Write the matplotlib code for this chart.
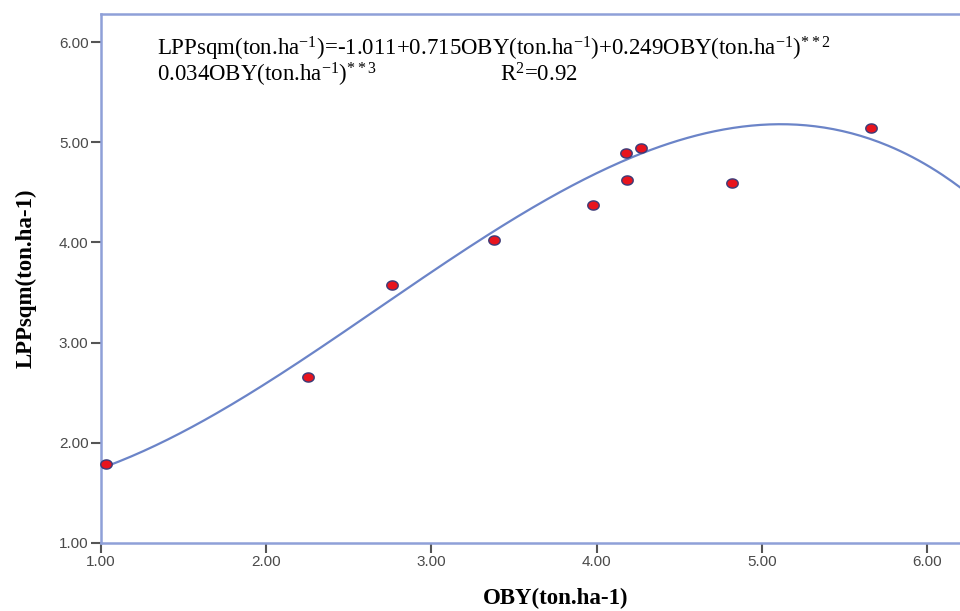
import numpy as np
import matplotlib
matplotlib.use('Agg')
import matplotlib.pyplot as plt

# Data
oby = [1.03, 2.25, 2.76, 3.38, 3.98, 4.175, 4.185, 4.27, 4.82, 5.66]
lppsqm = [1.79, 2.66, 3.58, 4.02, 4.37, 4.89, 4.62, 4.94, 4.59, 5.14]
# cubic fit line as drawn (coefficients, highest power first)
fit_coef = [-0.0637, 0.5123, -0.242, 1.539]
x_ticks = [1.00, 2.00, 3.00, 4.00, 5.00, 6.00]
y_ticks = [1.00, 2.00, 3.00, 4.00, 5.00, 6.00]

plt.rcParams['mathtext.fontset'] = 'custom'
plt.rcParams['mathtext.rm'] = 'Liberation Serif'
plt.rcParams['mathtext.it'] = 'Liberation Serif'

fig = plt.figure(figsize=(9.6, 6.11), dpi=100)
ax = fig.add_axes([101 / 960, 68 / 611, 5.5 * 165.2 / 960, 529 / 611])

xs = np.linspace(1.0, 6.5, 300)
ax.plot(xs, np.polyval(fit_coef, xs), color='#6b84c8', lw=1.6, zorder=2)

# slightly wide oval markers
t = np.linspace(0, 2 * np.pi, 40)
oval = list(zip(1.25 * np.cos(t), np.sin(t)))
ax.scatter(oby, lppsqm, marker=oval, s=68, facecolor='#e8141e',
           edgecolor='#3b3b78', linewidths=1.0, zorder=3, clip_on=False)

ax.set_xlim(1.0, 6.5)
ax.set_ylim(1.0, 6.28)
ax.set_xticks(x_ticks)
ax.set_yticks(y_ticks)
ax.set_xticklabels([f'{v:.2f}' for v in x_ticks])
ax.set_yticklabels([f'{v:.2f}' for v in y_ticks])
ax.tick_params(direction='out', length=7, width=1.5, color='#555555',
               labelsize=11, labelcolor='#4a4a4a', pad=2)
for lab in ax.get_xticklabels() + ax.get_yticklabels():
    lab.set_family('Liberation Sans')

for s in ax.spines.values():
    s.set_color('#8fa0d8')
    s.set_linewidth(1.8)

ax.set_xlabel('OBY(ton.ha-1)', family='Liberation Serif', weight='bold',
              fontsize=16.5, labelpad=13)
ax.set_ylabel('LPPsqm(ton.ha-1)', family='Liberation Serif', weight='bold',
              fontsize=16.5, labelpad=16)

eq1 = (r'LPPsqm(ton.ha$^{-1}$)=-1.011+0.715OBY(ton.ha$^{-1}$)'
       r'+0.249OBY(ton.ha$^{-1}$)$^{**2}$')
eq2 = r'0.034OBY(ton.ha$^{-1}$)$^{**3}$'
eq3 = r'R$^{2}$=0.92'
tf = dict(family='Liberation Serif', fontsize=16.5, color='black', va='center')
fig.text(157 / 960, 1 - 49 / 611, eq1, **tf)
fig.text(157 / 960, 1 - 75 / 611, eq2, **tf)
fig.text(500 / 960, 1 - 75 / 611, eq3, **tf)

fig.savefig('out.png', dpi=100)
plt.close(fig)
